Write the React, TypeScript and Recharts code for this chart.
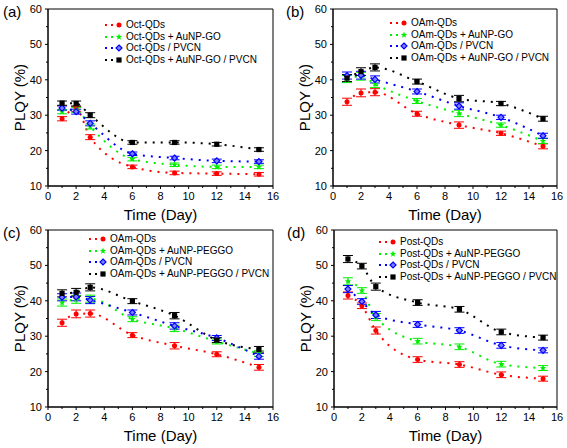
import { LineChart, Line, XAxis, YAxis, ErrorBar, Legend, ReferenceArea } from 'recharts';

const days = [1, 2, 3, 6, 9, 12, 15];
const xTicks = [0, 1, 2, 3, 4, 5, 6, 7, 8, 9, 10, 11, 12, 13, 14, 15, 16];
const yTicks = [10, 15, 20, 25, 30, 35, 40, 45, 50, 55, 60];

// (a) Oct-QDs
const octNames = ['Oct-QDs', 'Oct-QDs + AuNP-GO', 'Oct-QDs / PVCN', 'Oct-QDs + AuNP-GO / PVCN'];
const octRed = [29.0, 31.8, 23.8, 15.4, 13.7, 13.5, 13.3];
const octGreen = [31.0, 31.5, 26.8, 17.6, 16.0, 15.4, 15.4];
const octBlue = [32.0, 31.0, 27.7, 19.1, 17.9, 17.1, 16.9];
const octBlack = [33.4, 33.3, 30.0, 22.3, 22.3, 21.8, 20.3];
const octErr = [0.6, 0.7, 0.7, 0.5, 0.5, 0.5, 0.5];

// (b) OAm-QDs + AuNP-GO
const oamNames = ['OAm-QDs', 'OAm-QDs + AuNP-GO', 'OAm-QDs / PVCN', 'OAm-QDs + AuNP-GO / PVCN'];
const oamRed = [33.8, 36.3, 36.5, 30.4, 27.2, 24.9, 21.2];
const oamGreen = [40.2, 41.0, 38.8, 34.0, 30.5, 27.2, 22.7];
const oamBlue = [41.2, 41.3, 40.1, 36.7, 32.6, 29.4, 24.2];
const oamBlack = [40.5, 42.3, 43.5, 39.5, 34.7, 33.3, 29.0];
const oamErr = [1.0, 1.1, 1.0, 0.7, 0.9, 0.6, 0.7];

// (c) OAm-QDs + AuNP-PEGGO
const pegNames = ['OAm-QDs', 'OAm-QDs + AuNP-PEGGO', 'OAm-QDs / PVCN', 'OAm-QDs + AuNP-PEGGO / PVCN'];
const pegRed = [33.8, 36.3, 36.4, 30.3, 27.3, 24.9, 21.2];
const pegGreen = [39.5, 40.4, 40.6, 34.8, 32.2, 28.5, 25.1];
const pegBlue = [41.0, 41.1, 40.2, 36.7, 32.9, 29.5, 24.3];
const pegBlack = [42.1, 42.4, 43.8, 39.9, 35.8, 28.9, 26.3];
const pegErr = [1.0, 1.1, 1.0, 0.7, 0.9, 0.7, 0.8];

// (d) Post-QDs
const postNames = ['Post-QDs', 'Post-QDs + AuNP-PEGGO', 'Post-QDs / PVCN', 'Post-QDs + AuNP-PEGGO / PVCN'];
const postRed = [41.5, 38.6, 31.6, 23.4, 22.0, 19.1, 18.0];
const postGreen = [45.5, 42.9, 35.4, 28.6, 27.0, 22.1, 21.0];
const postBlue = [43.3, 39.8, 36.0, 33.3, 31.6, 27.4, 26.0];
const postBlack = [51.8, 49.8, 44.0, 39.5, 37.6, 31.2, 29.6];
const postErr = [1.0, 0.8, 1.0, 0.8, 0.8, 0.8, 0.7];

const colors = ['#ff0000', '#00ee00', '#0000ff', '#000000'];
const shapes = ['circle', 'star', 'diamond', 'square'];
const font = '"Liberation Sans", Arial, sans-serif';

function Marker({ cx, cy, shape, color }: { cx: number; cy: number; shape: string; color: string }) {
  if (cx == null || cy == null) return null;
  if (shape === 'circle') return <circle cx={cx} cy={cy} r={2.5} fill={color} />;
  if (shape === 'square') return <rect x={cx - 2.6} y={cy - 2.6} width={5.2} height={5.2} fill={color} />;
  if (shape === 'diamond')
    return (
      <path
        d={`M${cx},${cy - 3}L${cx + 3},${cy}L${cx},${cy + 3}L${cx - 3},${cy}Z`}
        fill="#8080ff"
        stroke={color}
        strokeWidth={1.2}
      />
    );
  const pts: string[] = [];
  for (let i = 0; i < 10; i++) {
    const r = i % 2 === 0 ? 3.4 : 1.4;
    const a = -Math.PI / 2 + (i * Math.PI) / 5;
    pts.push(`${cx + r * Math.cos(a)},${cy + r * Math.sin(a)}`);
  }
  return <polygon points={pts.join(' ')} fill={color} />;
}

function YTick(props: any) {
  const { x, y, payload } = props;
  const ax = x + 5;
  const major = payload.value % 10 === 0;
  return (
    <g>
      <line x1={ax} x2={ax - (major ? 3 : 2)} y1={y} y2={y} stroke="#000" />
      {major && (
        <text x={x - 1} y={y} dy="0.36em" textAnchor="end" fontSize={11} fontFamily={font} fill="#000">
          {payload.value}
        </text>
      )}
    </g>
  );
}

function XTick(props: any) {
  const { x, y, payload } = props;
  const ay = y - 5;
  const major = payload.value % 2 === 0;
  return (
    <g>
      <line x1={x} x2={x} y1={ay} y2={ay + (major ? 3 : 2)} stroke="#000" />
      {major && (
        <text x={x} y={y} dy="0.78em" textAnchor="middle" fontSize={11} fontFamily={font} fill="#000">
          {payload.value}
        </text>
      )}
    </g>
  );
}

function YLabel(props: any) {
  const vb = props.viewBox || { x: 0, y: 9, width: 48, height: 177 };
  const cx = vb.x + 19;
  const cy = vb.y + vb.height / 2;
  return (
    <text
      x={cx}
      y={cy}
      transform={`rotate(-90, ${cx}, ${cy})`}
      textAnchor="middle"
      dominantBaseline="central"
      fontSize={15}
      fontFamily={font}
      fill="#000"
    >
      PLQY (%)
    </text>
  );
}

type PanelProps = {
  letter: string;
  left: number;
  top: number;
  width: number;
  names: string[];
  series: number[][];
  errors: number[];
  legendLeft: number;
  legendTop: number;
};

function Panel({ letter, left, top, width, names, series, errors, legendLeft, legendTop }: PanelProps) {
  const data = days.map((d, i) => {
    const row: any = { day: d };
    series.forEach((s, k) => {
      row['s' + k] = s[i];
      row['e' + k] = errors[i];
    });
    return row;
  });

  const renderLegend = () => (
    <div style={{ fontFamily: font, fontSize: 10, lineHeight: '11.7px', color: '#000' }}>
      {names.map((n, k) => (
        <div key={n} style={{ display: 'flex', alignItems: 'center', height: 11.7, whiteSpace: 'nowrap' }}>
          <svg width={21} height={10} style={{ display: 'block' }}>
            <line x1={1} x2={12} y1={5} y2={5} stroke={colors[k]} strokeWidth={2} strokeDasharray="2 4" />
            <Marker cx={15} cy={5} shape={shapes[k]} color={colors[k]} />
          </svg>
          <span style={{ marginLeft: 1 }}>{n}</span>
        </div>
      ))}
    </div>
  );

  return (
    <div style={{ position: 'absolute', left, top, width, height: 224 }}>
      <LineChart width={width} height={224} data={data} margin={{ top: 9, right: 10, left: 0, bottom: 0 }}>
        <XAxis
          dataKey="day"
          type="number"
          domain={[0, 16]}
          ticks={xTicks}
          interval={0}
          tickSize={3}
          tickMargin={2}
          tickLine={false}
          tick={<XTick />}
          height={38}
          stroke="#000"
          label={{ value: 'Time (Day)', position: 'insideBottom', offset: 4, fontSize: 15, fontFamily: font, fill: '#000' }}
        />
        <YAxis
          type="number"
          domain={[10, 60]}
          ticks={yTicks}
          interval={0}
          tickSize={3}
          tickMargin={2}
          tickLine={false}
          tick={<YTick />}
          width={48}
          stroke="#000"
          label={(p: any) => <YLabel {...p} />}
        />
        <ReferenceArea x1={0} x2={16} y1={10} y2={60} fill="none" stroke="#000" strokeWidth={1} fillOpacity={0} />
        <Legend
          layout="horizontal"
          verticalAlign="middle"
          align="center"
          content={renderLegend}
          wrapperStyle={{ position: 'absolute', left: legendLeft, top: legendTop, width: 'auto', height: 'auto' }}
        />
        {series.map((_, k) => (
          <Line
            key={k}
            type="monotone"
            dataKey={'s' + k}
            name={names[k]}
            stroke={colors[k]}
            strokeWidth={2}
            strokeDasharray="2 6"
            dot={(p: any) => <Marker key={p.index} cx={p.cx} cy={p.cy} shape={shapes[k]} color={colors[k]} />}
            activeDot={false}
            isAnimationActive={false}
          >
            <ErrorBar dataKey={'e' + k} direction="y" width={5} strokeWidth={1} stroke={colors[k]} />
          </Line>
        ))}
      </LineChart>
      <div
        style={{
          position: 'absolute',
          left: letter === 'a' || letter === 'c' ? 3 : 1,
          top: 3,
          fontFamily: font,
          fontSize: 15,
          color: '#000',
        }}
      >
        ({letter})
      </div>
    </div>
  );
}

export default function App() {
  return (
    <div style={{ position: 'absolute', left: 0, top: 0, width: 567, height: 448, background: '#fff', overflow: 'hidden' }}>
      <Panel letter="a" left={0} top={0} width={283} names={octNames} series={[octRed, octGreen, octBlue, octBlack]} errors={octErr} legendLeft={104} legendTop={19} />
      <Panel letter="b" left={285} top={0} width={282} names={oamNames} series={[oamRed, oamGreen, oamBlue, oamBlack]} errors={oamErr} legendLeft={104} legendTop={17} />
      <Panel letter="c" left={0} top={221} width={283} names={pegNames} series={[pegRed, pegGreen, pegBlue, pegBlack]} errors={pegErr} legendLeft={88} legendTop={12} />
      <Panel letter="d" left={286} top={221} width={281} names={postNames} series={[postRed, postGreen, postBlue, postBlack]} errors={postErr} legendLeft={92} legendTop={15} />
    </div>
  );
}
